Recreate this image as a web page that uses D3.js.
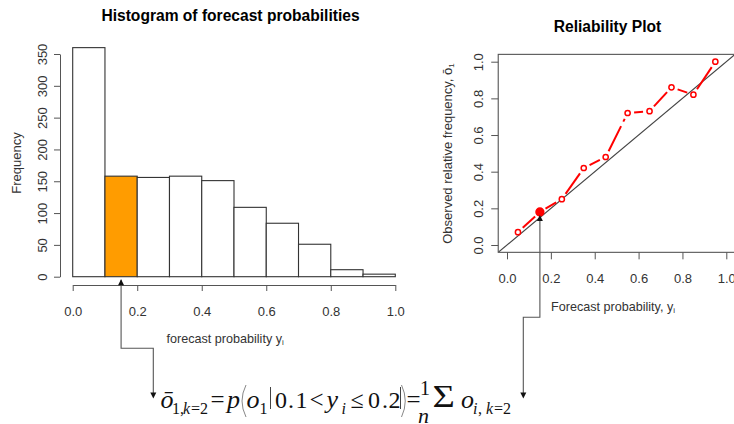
<!DOCTYPE html>
<html>
<head>
<meta charset="utf-8">
<script src="https://cdn.jsdelivr.net/npm/d3@7"></script>
<style>
  html, body { margin: 0; padding: 0; background: #fff; }
  svg { display: block; }
  text { font-family: "Liberation Sans", Arial, sans-serif; }
  text.serif { font-family: "Liberation Serif", "Times New Roman", serif; }
</style>
</head>
<body>
<svg id="chart" width="734" height="424"></svg>
<script>
// ---- data ----
const binEdges = [0, 0.1, 0.2, 0.3, 0.4, 0.5, 0.6, 0.7, 0.8, 0.9, 1.0];
const binCounts = [360, 158, 156, 158, 151, 109, 84, 51, 11, 4];
const highlightBin = 1;                       // 0.1 < y <= 0.2
const histYTicks = [0, 50, 100, 150, 200, 250, 300, 350];
const probTicks = [0, 0.2, 0.4, 0.6, 0.8, 1.0];

const forecastProb = [0.05, 0.15, 0.25, 0.35, 0.45, 0.55, 0.65, 0.75, 0.85, 0.95];
const observedFreq = [0.07, 0.18, 0.25, 0.42, 0.48, 0.72, 0.73, 0.86, 0.82, 1.00];
const relTicks = [0, 0.2, 0.4, 0.6, 0.8, 1.0];

const svg = d3.select("#chart");
const axisCol = "#555", labCol = "#333";

// ---- histogram ----
const xH = d3.scaleLinear().domain([0, 1]).range([72.7, 395.3]);
const yH = d3.scaleLinear().domain([0, 350]).range([276.7, 54]);

svg.append("text").attr("x", 230.5).attr("y", 20.5).attr("text-anchor", "middle")
  .attr("font-size", 15.6).attr("font-weight", "bold").text("Histogram of forecast probabilities");

svg.append("g").selectAll("rect").data(binCounts).join("rect")
  .attr("x", (d, i) => xH(binEdges[i]))
  .attr("width", (d, i) => xH(binEdges[i + 1]) - xH(binEdges[i]))
  .attr("y", d => yH(d))
  .attr("height", d => yH(0) - yH(d))
  .attr("fill", (d, i) => i === highlightBin ? "#ff9c00" : "#fff")
  .attr("stroke", "#333").attr("stroke-width", 1.1);

// y axis (labels rotated, R style)
const gyH = svg.append("g").attr("transform", "translate(60,0)")
  .call(d3.axisLeft(yH).tickValues(histYTicks).tickSize(6).tickSizeOuter(0).tickFormat(d3.format("d")));
gyH.select(".domain").attr("stroke", axisCol);
gyH.selectAll(".tick line").attr("stroke", axisCol);
gyH.selectAll(".tick text").attr("transform", "rotate(-90)").attr("x", 0).attr("y", -13.5)
  .attr("dy", 0).attr("text-anchor", "middle").attr("font-size", 13).attr("fill", labCol)
  .attr("font-family", "Liberation Sans, Arial, sans-serif");

// x axis
const gxH = svg.append("g").attr("transform", "translate(0,285)")
  .call(d3.axisBottom(xH).tickValues(probTicks).tickSize(6).tickSizeOuter(0).tickFormat(d3.format(".1f")));
gxH.select(".domain").attr("stroke", axisCol);
gxH.selectAll(".tick line").attr("stroke", axisCol);
gxH.selectAll(".tick text").attr("y", 31).attr("dy", 0).attr("font-size", 13).attr("fill", labCol)
  .attr("font-family", "Liberation Sans, Arial, sans-serif");

svg.append("text").attr("transform", "translate(20.5,163) rotate(-90)").attr("text-anchor", "middle")
  .attr("font-size", 13).attr("fill", labCol).text("Frequency");

const xlabH = svg.append("text").attr("x", 166.5).attr("y", 342.5).attr("font-size", 12.6).attr("fill", labCol);
xlabH.append("tspan").text("forecast probability  y");
xlabH.append("tspan").attr("font-size", 8).attr("dy", 2).text("i");

// ---- reliability plot ----
const xR = d3.scaleLinear().domain([0, 1]).range([507, 726.3]);
const yR = d3.scaleLinear().domain([0, 1]).range([245, 61.7]);
const lo = -0.04, hi = 1.04;

svg.append("text").attr("x", 607.5).attr("y", 31.5).attr("text-anchor", "middle")
  .attr("font-size", 15.6).attr("font-weight", "bold").text("Reliability Plot");

svg.append("defs").append("clipPath").attr("id", "relClip").append("rect")
  .attr("x", xR(lo)).attr("y", yR(hi)).attr("width", xR(hi) - xR(lo)).attr("height", yR(lo) - yR(hi));

// perfect reliability diagonal
svg.append("line").attr("clip-path", "url(#relClip)")
  .attr("x1", xR(lo)).attr("y1", yR(lo)).attr("x2", xR(hi)).attr("y2", yR(hi))
  .attr("stroke", "#444").attr("stroke-width", 1.1);

svg.append("rect").attr("x", xR(lo)).attr("y", yR(hi))
  .attr("width", xR(hi) - xR(lo)).attr("height", yR(lo) - yR(hi))
  .attr("fill", "none").attr("stroke", axisCol).attr("stroke-width", 1.1);

const gyR = svg.append("g").attr("transform", `translate(${xR(lo)},0)`)
  .call(d3.axisLeft(yR).tickValues(relTicks).tickSize(7).tickSizeOuter(0).tickFormat(d3.format(".1f")));
gyR.select(".domain").remove();
gyR.selectAll(".tick line").attr("stroke", axisCol);
gyR.selectAll(".tick text").attr("transform", "rotate(-90)").attr("x", 0).attr("y", -15)
  .attr("dy", 0).attr("text-anchor", "middle").attr("font-size", 13).attr("fill", labCol)
  .attr("font-family", "Liberation Sans, Arial, sans-serif");

const gxR = svg.append("g").attr("transform", `translate(0,${yR(lo)})`)
  .call(d3.axisBottom(xR).tickValues(relTicks).tickSize(7).tickSizeOuter(0).tickFormat(d3.format(".1f")));
gxR.select(".domain").remove();
gxR.selectAll(".tick line").attr("stroke", axisCol);
gxR.selectAll(".tick text").attr("y", 31).attr("dy", 0).attr("font-size", 13).attr("fill", labCol)
  .attr("font-family", "Liberation Sans, Arial, sans-serif");

const xlabR = svg.append("text").attr("x", 551).attr("y", 311).attr("font-size", 12.6).attr("fill", labCol);
xlabR.append("tspan").text("Forecast probability, y");
xlabR.append("tspan").attr("font-size", 8).attr("dy", 2).text("i");

const ylabR = svg.append("text").attr("transform", "translate(452,153.5) rotate(-90)")
  .attr("text-anchor", "middle").attr("font-size", 13).attr("fill", labCol);
ylabR.append("tspan").text("Observed relative frequency, \u014D");
ylabR.append("tspan").attr("font-size", 8).attr("dy", 2).text("1");

// observed vs forecast: dashed segments with gaps around the points (type "b")
const pts = forecastProb.map((p, i) => [xR(p), yR(observedFreq[i])]);
const gap = 6.5;
const segs = d3.pairs(pts).map(([a, b]) => {
  const dx = b[0] - a[0], dy = b[1] - a[1], L = Math.hypot(dx, dy);
  const ux = dx / L, uy = dy / L;
  return [a[0] + ux * gap, a[1] + uy * gap, b[0] - ux * gap, b[1] - uy * gap];
});
svg.append("g").selectAll("line").data(segs).join("line")
  .attr("x1", d => d[0]).attr("y1", d => d[1]).attr("x2", d => d[2]).attr("y2", d => d[3])
  .attr("stroke", "#ff0000").attr("stroke-width", 2).attr("stroke-dasharray", "28,5");
svg.append("g").selectAll("circle").data(pts).join("circle")
  .attr("cx", d => d[0]).attr("cy", d => d[1])
  .attr("r", (d, i) => i === highlightBin ? 3.9 : 2.6)
  .attr("fill", (d, i) => i === highlightBin ? "#ff0000" : "#fff")
  .attr("stroke", "#ff0000").attr("stroke-width", 1.5);

// ---- connector arrows ----
const arrowCol = "#555";
const hx = xH((binEdges[highlightBin] + binEdges[highlightBin + 1]) / 2);
const rx = xR(forecastProb[highlightBin]);
const ry = yR(forecastProb[highlightBin]);
const formulaY = 398.5;

function head(x, tip, dir) {          // dir = -1 points up, +1 points down
  const b = tip - dir * 6;
  return `M${x},${tip}L${x - 3},${b}L${x + 3},${b}Z`;
}
const conn = svg.append("g").attr("fill", "none").attr("stroke", arrowCol).attr("stroke-width", 1.1);
conn.append("path").attr("d", `M${hx},${yH(0) + 3}V348.3H153.3V${formulaY - 5}`);
conn.append("path").attr("d", `M${rx},${ry + 2}V317.3H523.3V${formulaY - 5}`);
const heads = svg.append("g").attr("fill", "#111");
heads.append("path").attr("d", head(hx, yH(0) + 2.5, -1));
heads.append("path").attr("d", head(rx, ry - 2.5, -1));
heads.append("path").attr("d", head(153.3, formulaY, 1));
heads.append("path").attr("d", head(523.3, formulaY, 1));

// ---- formula ----
const fm = svg.append("g").attr("fill", "#111");
const base = 408.3, sub = 413.5;
const tokens = [
  { t: "\u014D", x: 160.5, y: base, s: 26, i: true },
  { t: "1,", x: 172, y: sub, s: 16 },
  { t: "k", x: 183, y: sub, s: 16, i: true },
  { t: "=2", x: 191, y: sub, s: 16 },
  { t: "=", x: 210.5, y: base, s: 25 },
  { t: "p", x: 227, y: base, s: 26, i: true },
  { t: "o", x: 246.5, y: base, s: 26, i: true },
  { t: "1", x: 259.5, y: sub, s: 16 },
  { t: "0", x: 275, y: base, s: 24 },
  { t: ".", x: 288, y: base, s: 24 },
  { t: "1", x: 295.5, y: base, s: 24 },
  { t: "<", x: 309.5, y: base, s: 25 },
  { t: "y", x: 326.5, y: base, s: 26, i: true },
  { t: "i", x: 341.5, y: sub, s: 16, i: true },
  { t: "\u2264", x: 350.5, y: base, s: 24 },
  { t: "0", x: 368, y: base, s: 24 },
  { t: ".", x: 382, y: base, s: 24 },
  { t: "2", x: 388.5, y: base, s: 24 },
  { t: "=", x: 406.5, y: base, s: 25 },
  { t: "1", x: 420, y: 395, s: 20 },
  { t: "n", x: 418, y: 423, s: 22, i: true },
  { t: "o", x: 461, y: base, s: 26, i: true },
  { t: "i", x: 473, y: sub, s: 16, i: true },
  { t: ",", x: 478, y: sub, s: 16 },
  { t: "k", x: 486, y: sub, s: 16, i: true },
  { t: "=2", x: 494, y: sub, s: 16 }
];
fm.selectAll("text.tok").data(tokens).join("text")
  .attr("class", "serif tok")
  .attr("font-family", "Liberation Serif, Times New Roman, serif")
  .attr("x", d => d.x).attr("y", d => d.y)
  .attr("font-size", d => d.s)
  .attr("font-style", d => d.i ? "italic" : "normal")
  .attr("fill", d => d.c || "#111")
  .text(d => d.t);

// summation sign, widened
fm.append("text").attr("class", "serif")
  .attr("font-family", "Liberation Serif, Times New Roman, serif")
  .attr("transform", "translate(432.5,406.5) scale(1.2,1)")
  .attr("font-size", 32).text("\u03A3");

// thin stretched delimiters: ( | |)
const delim = fm.append("g").attr("fill", "none").attr("stroke", "#888").attr("stroke-width", 1);
delim.append("path").attr("d", "M246,385Q238,401 246,417");
delim.append("path").attr("d", "M401.5,385Q409,401 401.5,417");
delim.append("path").attr("d", "M270.5,387V409").attr("stroke", "#444");
delim.append("path").attr("d", "M400.5,387V409").attr("stroke", "#444");
</script>
</body>
</html>
